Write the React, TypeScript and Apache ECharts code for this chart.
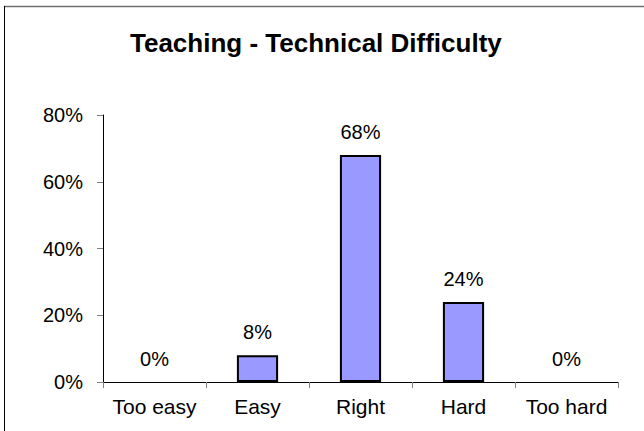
import React, { useEffect, useRef } from "react";
import * as echarts from "echarts";

const titleText = "Teaching - Technical Difficulty";
const categories = ["Too easy", "Easy", "Right", "Hard", "Too hard"];
const values = [0, 8, 68, 24, 0];
const yTicks = { min: 0, max: 80, interval: 20 };

const FONT = "'Liberation Sans', Arial, sans-serif";

export default function App() {
  const ref = useRef<HTMLDivElement>(null);
  useEffect(() => {
    if (!ref.current) return;
    const chart = echarts.init(ref.current, null, { renderer: "svg" });
    chart.setOption({
      animation: false,
      backgroundColor: "#ffffff",
      title: {
        text: titleText,
        left: 125,
        top: 25,
        textStyle: { fontFamily: FONT, fontSize: 26, fontWeight: "bold", color: "#000" },
      },
      grid: { left: 103, right: 26, top: 115, bottom: 49, containLabel: false },
      xAxis: {
        type: "category",
        data: categories,
        axisLine: { lineStyle: { color: "#000", width: 1 } },
        axisTick: { show: true, length: 6, lineStyle: { color: "#808080" } },
        axisLabel: { fontFamily: FONT, fontSize: 21, color: "#000", margin: 14, interval: 0 },
      },
      yAxis: {
        type: "value",
        min: yTicks.min,
        max: yTicks.max,
        interval: yTicks.interval,
        axisLine: { show: true, lineStyle: { color: "#000", width: 1 } },
        axisTick: { show: true, length: 6, lineStyle: { color: "#808080" } },
        splitLine: { show: false },
        axisLabel: { fontFamily: FONT, fontSize: 20, color: "#000", margin: 20, formatter: "{value}%" },
      },
      series: [
        {
          type: "bar",
          data: values.map((v) => ({
            value: v,
            itemStyle: v === 0 ? { borderWidth: 0, color: "transparent" } : undefined,
          })),
          barWidth: "40%",
          itemStyle: { color: "#9999FF", borderColor: "#000", borderWidth: 2 },
          label: {
            show: true,
            position: "top",
            distance: 13,
            formatter: "{c}%",
            fontFamily: FONT,
            fontSize: 20,
            color: "#000",
          },
        },
      ],
      graphic: [
        { type: "line", shape: { x1: 4, y1: 6.5, x2: 644, y2: 6.5 }, style: { stroke: "#707070", lineWidth: 1.5 } },
        { type: "line", shape: { x1: 4.5, y1: 6, x2: 4.5, y2: 431 }, style: { stroke: "#000", lineWidth: 1 } },
      ],
    });
    return () => chart.dispose();
  }, []);
  return (
    <div
      ref={ref}
      style={{ position: "fixed", left: 0, top: 0, width: 644, height: 431 }}
    />
  );
}
